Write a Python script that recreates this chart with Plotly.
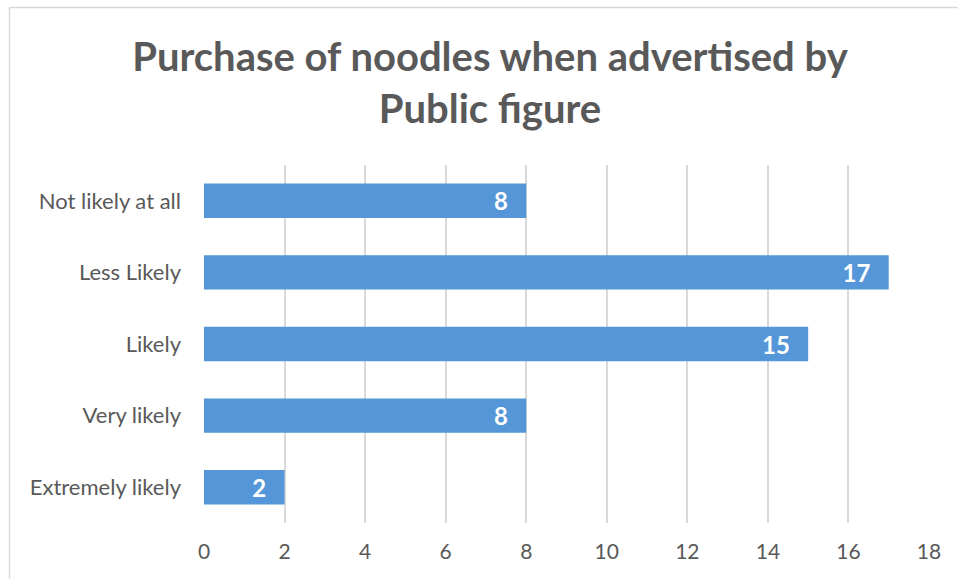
import plotly.graph_objects as go

categories = ["Extremely likely", "Very likely", "Likely", "Less Likely", "Not likely at all"]
values = [2, 8, 15, 17, 8]
x_ticks = [0, 2, 4, 6, 8, 10, 12, 14, 16, 18]

W, H = 958, 579
L, R, T, B = 204, 29, 165, 56
pw, ph = W - L - R, H - T - B

def px(x):
    return (x - L) / pw

def py(y):
    return (H - B - y) / ph

fig = go.Figure()
fig.add_trace(go.Bar(
    y=categories, x=values, orientation="h",
    marker=dict(color="#5596d8", line=dict(width=0)),
    width=0.48,
    text=[str(v) for v in values], textposition="inside",
    insidetextanchor="end", textangle=0, constraintext="none",
    textfont=dict(color="white", size=24, family="Lato"),
    texttemplate="<b>%{text}</b>\u00a0\u00a0\u2009",
    cliponaxis=False,
))

shapes = [
    dict(type="line", xref="paper", yref="paper", x0=px(9), x1=px(958), y0=py(7.5), y1=py(7.5),
         line=dict(color="#d9d9d9", width=1.5)),
    dict(type="line", xref="paper", yref="paper", x0=px(9.5), x1=px(9.5), y0=py(7), y1=py(579),
         line=dict(color="#d9d9d9", width=1.5)),
]

fig.update_layout(
    width=W, height=H,
    margin=dict(l=L, r=R, t=T, b=B),
    paper_bgcolor="white", plot_bgcolor="white",
    title=dict(text="<b>Purchase of noodles when advertised by<br>Public figure</b>",
               xref="container", x=490 / W, xanchor="center",
               yref="container", y=1 - 71 / H, yanchor="top",
               font=dict(size=40, color="#595959", family="Lato")),
    font=dict(family="Lato", color="#595959", size=21),
    showlegend=False,
    bargap=0.52,
    uniformtext=dict(mode=False),
    shapes=shapes,
    xaxis=dict(range=[0, 18], tickvals=x_ticks, showgrid=True, gridcolor="#d9d9d9", gridwidth=1.5,
               zeroline=False, showline=False, ticks="", tickfont=dict(size=21, color="#595959"),
               ticklabelstandoff=14, fixedrange=True),
    yaxis=dict(showgrid=False, zeroline=False, showline=False, ticks="",
               tickfont=dict(size=22, color="#595959"), ticklabelstandoff=22, fixedrange=True),
)

fig.write_html("out.html", post_script="document.body.style.margin='0';",
               config={"displayModeBar": False})
